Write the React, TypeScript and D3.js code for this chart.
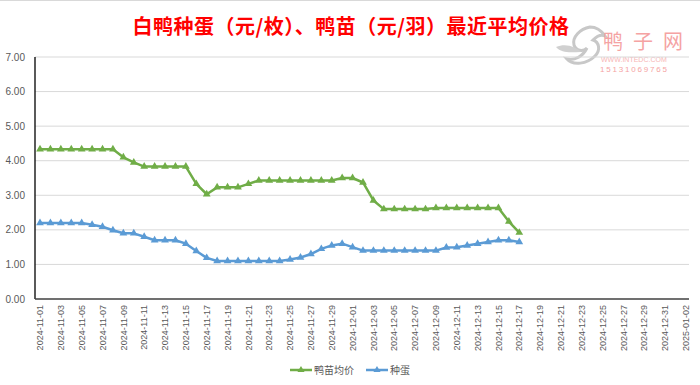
import React from "react";
import * as d3 from "d3";

const TITLE = "白鸭种蛋（元/枚）、鸭苗（元/羽）最近平均价格";
const START_DATE = "2024-11-01";
const AXIS_START = "2024-11-01";
const AXIS_END = "2025-01-02";
const SERIES_NAMES = ["鸭苗均价", "种蛋"];
const duckling = [
  4.33, 4.33, 4.33, 4.33, 4.33, 4.33, 4.33, 4.33, 4.1, 3.95,
  3.83, 3.83, 3.83, 3.83, 3.83, 3.33, 3.03, 3.23, 3.23, 3.23,
  3.33, 3.43, 3.43, 3.43, 3.43, 3.43, 3.43, 3.43, 3.43, 3.5,
  3.5, 3.37, 2.85, 2.6, 2.6, 2.6, 2.6, 2.6, 2.63, 2.63,
  2.63, 2.63, 2.63, 2.63, 2.63, 2.24, 1.92,
];
const eggs = [
  2.2, 2.2, 2.2, 2.2, 2.2, 2.15, 2.09, 1.99, 1.9, 1.9,
  1.8, 1.7, 1.7, 1.7, 1.6, 1.39, 1.19, 1.1, 1.1, 1.1,
  1.1, 1.1, 1.1, 1.1, 1.14, 1.2, 1.3, 1.45, 1.55, 1.6,
  1.5, 1.4, 1.4, 1.4, 1.4, 1.4, 1.4, 1.4, 1.4, 1.49,
  1.5, 1.55, 1.6, 1.65, 1.7, 1.7, 1.65,
];
const yTicks = [0, 1, 2, 3, 4, 5, 6, 7];
const COLORS = ["#70AD47", "#5B9BD5"];

const W = 700;
const H = 385;

export default function App() {
  const parse = d3.utcParse("%Y-%m-%d");
  const fmt = d3.utcFormat("%Y-%m-%d");
  const start = parse(START_DATE)!;
  const a0 = parse(AXIS_START)!;
  const a1 = parse(AXIS_END)!;
  const dates = duckling.map((_, i) => d3.utcDay.offset(start, i));
  const xTicks = d3.utcDay.range(a0, d3.utcDay.offset(a1, 1), 2);

  const x = d3.scaleUtc().domain([a0, a1]).range([40, 686]);
  const y = d3.scaleLinear().domain([0, 7]).range([299, 57]);
  const left = 35;
  const right = 689;

  const series = [duckling, eggs];
  const line = d3
    .line<number>()
    .x((_, i) => x(dates[i]))
    .y((d) => y(d));
  const tri = d3.symbol().type(d3.symbolTriangle).size(26)()!;
  const legendTri = d3.symbol().type(d3.symbolTriangle).size(22)()!;

  const tickFont = "'Liberation Sans', Arial, sans-serif";
  const cjk = "'Noto Sans CJK SC', sans-serif";

  return (
    <svg
      width={W}
      height={H}
      style={{ position: "absolute", left: 0, top: 0, background: "#fff" }}
    >
      <rect x={0} y={0} width={W} height={H} fill="#fff" />
      <line x1={0} x2={W} y1={0.5} y2={0.5} stroke="#d9d9d9" />
      {/* watermark */}
      <g>
        <path
          d="M590,27 C580,29 572,37 574,45 C576,51 583,52 587,48 C583,56 575,61 567,59 C573,66 587,64 595,56 C601,50 599,42 593,40 C597,36 601,34 605,36 C601,30 596,27 590,27 Z"
          fill="none"
          stroke="#c8c8c8"
          strokeWidth={3}
        />
        <path
          d="M556,47 C566,43 576,47 581,52 C572,52 562,54 556,47 Z"
          fill="#d0d0d0"
        />
        <text
          x={603}
          y={49}
          fontFamily={cjk}
          fontSize={20}
          letterSpacing={10}
          fill="#f5a3a3"
        >
          鸭子网
        </text>
        <text x={601} y={62} fontFamily={tickFont} fontSize={7} fill="#f7b5b5">
          WWW.INTEDC.COM
        </text>
        <text
          x={600}
          y={72}
          fontFamily={tickFont}
          fontSize={8}
          letterSpacing={1.8}
          fill="#f5a3a3"
        >
          15131069765
        </text>
      </g>
      {/* title */}
      <text
        x={351}
        y={34}
        textAnchor="middle"
        fontFamily={cjk}
        fontWeight="bold"
        fontSize={20}
        letterSpacing={0.5}
        fill="#FF0000"
      >
        {TITLE}
      </text>
      {/* grid */}
      {yTicks.map((t) => (
        <g key={t}>
          {t > 0 && (
            <line x1={left} x2={right} y1={y(t)} y2={y(t)} stroke="#d9d9d9" strokeWidth={1} />
          )}
          <text
            x={25}
            y={y(t)}
            dy="0.35em"
            textAnchor="end"
            fontFamily={tickFont}
            fontSize={10}
            fill="#595959"
          >
            {t.toFixed(2)}
          </text>
        </g>
      ))}
      {/* axes */}
      <line x1={left} x2={left} y1={y(7)} y2={y(0)} stroke="#000" strokeWidth={1.3} />
      <line x1={left} x2={right} y1={y(0)} y2={y(0)} stroke="#404040" strokeWidth={1.6} />
      {xTicks.map((d) => (
        <text
          key={fmt(d)}
          transform={`translate(${x(d)},${305}) rotate(-90)`}
          textAnchor="end"
          dy="0.35em"
          fontFamily={tickFont}
          fontSize={9}
          fill="#595959"
        >
          {fmt(d)}
        </text>
      ))}
      {/* series */}
      {series.map((s, k) => (
        <g key={k}>
          <path
            d={line(s) || ""}
            fill="none"
            stroke={COLORS[k]}
            strokeWidth={2.5}
            strokeLinejoin="round"
          />
          {s.map((v, i) => (
            <path
              key={i}
              d={tri}
              transform={`translate(${x(dates[i])},${y(v)})`}
              fill={COLORS[k]}
            />
          ))}
        </g>
      ))}
      {/* legend */}
      {SERIES_NAMES.map((n, k) => {
        const lx = k === 0 ? 290 : 366;
        return (
          <g key={n}>
            <line x1={lx} x2={lx + 22} y1={370} y2={370} stroke={COLORS[k]} strokeWidth={2.5} />
            <path d={legendTri} transform={`translate(${lx + 11},${370})`} fill={COLORS[k]} />
            <text
              x={lx + 24}
              y={370}
              dy="0.35em"
              fontFamily={cjk}
              fontSize={10}
              fill="#595959"
            >
              {n}
            </text>
          </g>
        );
      })}
    </svg>
  );
}
